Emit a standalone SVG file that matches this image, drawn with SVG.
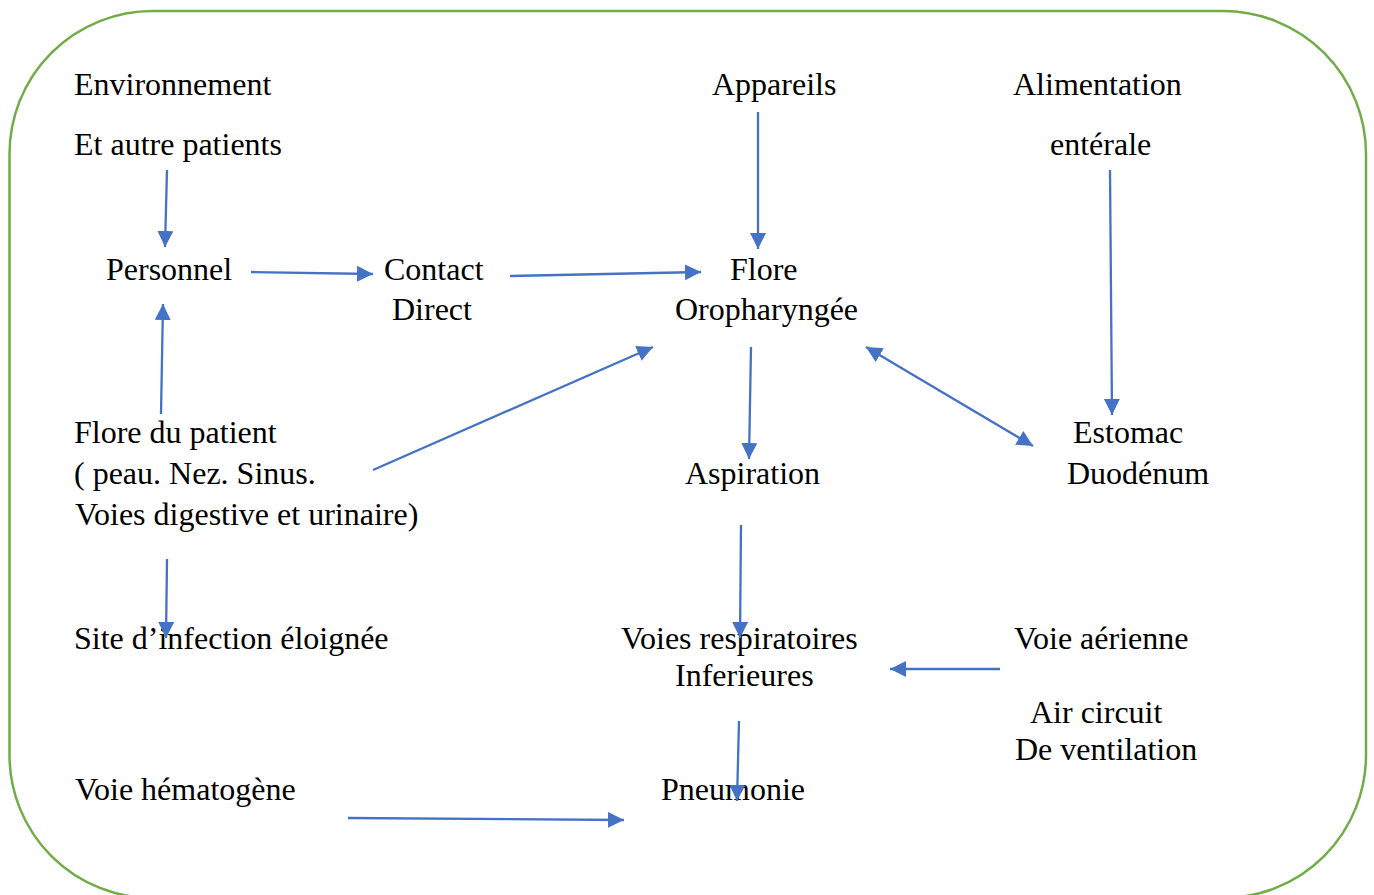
<svg xmlns="http://www.w3.org/2000/svg" width="1374" height="895" viewBox="0 0 1374 895">
<style>
text{font-family:"Liberation Serif","Times New Roman",serif;font-size:32px;fill:#000}
.c{fill:none;stroke:#4472C4;stroke-width:2.3;marker-end:url(#ah)}
</style>
<defs>
<marker id="ah" markerUnits="userSpaceOnUse" markerWidth="18" markerHeight="18" refX="16" refY="8" orient="auto-start-reverse" viewBox="0 0 18 18">
<path d="M0,0 L16,8 L0,16 z" fill="#4472C4"/>
</marker>
</defs>
<rect x="9.5" y="11" width="1356.5" height="887" rx="143" ry="143" fill="#fff" stroke="#70AD47" stroke-width="2.5"/>
<g id="n-env"><text x="74" y="95">Environnement</text><text x="74" y="155">Et autre patients</text></g>
<g id="n-app"><text x="712" y="95">Appareils</text></g>
<g id="n-alim"><text x="1013" y="95">Alimentation</text><text x="1050" y="155">entérale</text></g>
<g id="n-pers"><text x="106" y="280">Personnel</text></g>
<g id="n-contact"><text x="384" y="280">Contact</text><text x="392" y="320">Direct</text></g>
<g id="n-flore"><text x="730" y="280">Flore</text><text x="675" y="320">Oropharyngée</text></g>
<g id="n-patient"><text x="74" y="443">Flore du patient</text><text x="74" y="484">( peau. Nez. Sinus.</text><text x="75" y="525">Voies digestive et urinaire)</text></g>
<g id="n-asp"><text x="685" y="484">Aspiration</text></g>
<g id="n-estomac"><text x="1073" y="443">Estomac</text><text x="1067" y="484">Duodénum</text></g>
<g id="n-site"><text x="74" y="649">Site d’infection éloignée</text></g>
<g id="n-voies"><text x="621" y="649">Voies respiratoires</text><text x="675" y="686">Inferieures</text></g>
<g id="n-aer"><text x="1014" y="649">Voie aérienne</text><text x="1030" y="723">Air circuit</text><text x="1015" y="760">De ventilation</text></g>
<g id="n-hema"><text x="75" y="800">Voie hématogène</text></g>
<g id="n-pneu"><text x="661" y="800">Pneumonie</text></g>
<g id="connectors">
<line class="c" x1="167" y1="170" x2="165" y2="247"/>
<line class="c" x1="251" y1="272" x2="373" y2="274"/>
<line class="c" x1="510" y1="276" x2="701" y2="272"/>
<line class="c" x1="758" y1="112" x2="758" y2="249"/>
<line class="c" x1="1110" y1="170" x2="1112" y2="415"/>
<line class="c" x1="161" y1="414" x2="163" y2="304"/>
<line class="c" x1="373" y1="470" x2="653" y2="347"/>
<line class="c" x1="751" y1="347" x2="749" y2="459"/>
<line class="c" x1="866" y1="347" x2="1033" y2="446" marker-start="url(#ah)"/>
<line class="c" x1="167" y1="559" x2="166" y2="638"/>
<line class="c" x1="741" y1="525" x2="740" y2="638"/>
<line class="c" x1="1000" y1="669" x2="890" y2="669"/>
<line class="c" x1="739" y1="721" x2="737" y2="801"/>
<line class="c" x1="348" y1="818" x2="624" y2="820"/>
</g>
</svg>
